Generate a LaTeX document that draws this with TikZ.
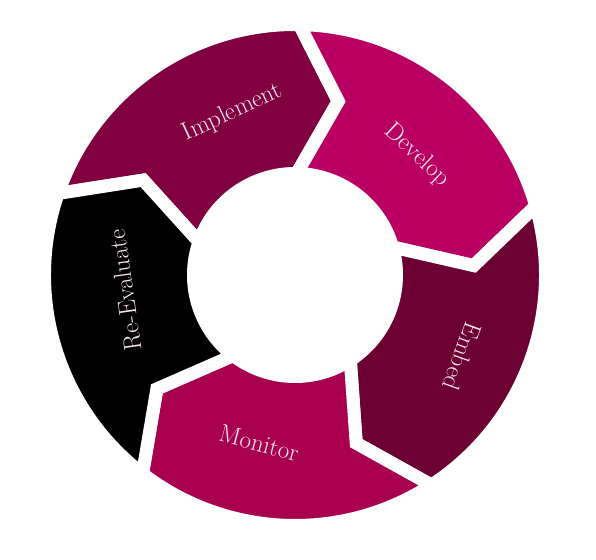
\documentclass[tikz,border=0pt]{standalone}
\usepackage{xcolor,tikz}

\definecolor{implcol}{HTML}{800040}
\definecolor{devcol}{HTML}{B90062}
\definecolor{embcol}{HTML}{6C0032}
\definecolor{moncol}{HTML}{A8004F}
\definecolor{reevcol}{HTML}{000000}
\definecolor{textcol}{HTML}{F4E4EC}

\begin{document}
\begin{tikzpicture}[x=1pt, y=1pt,
	segment/.style={draw=white, line width=13pt, line join=miter},
	phase/.style={text=textcol, inner sep=0pt, font=\fontsize{25}{30}\selectfont}]
			\useasboundingbox (-295, -284) rectangle (301, 275);
			\draw [segment, fill=implcol] (161:250.5pt) arc [start angle=161, end angle=89, radius=250.5pt] -- (76:179pt) -- (89:101.5pt) arc [start angle=89, end angle=161, radius=101.5pt] -- (148:179pt) -- cycle;
			\draw [segment, fill=devcol] (89:250.5pt) arc [start angle=89, end angle=16, radius=250.5pt] -- (3:179pt) -- (16:101.5pt) arc [start angle=16, end angle=89, radius=101.5pt] -- (76:179pt) -- cycle;
			\draw [segment, fill=embcol] (16:250.5pt) arc [start angle=16, end angle=-57, radius=250.5pt] -- (-70:179pt) -- (-57:101.5pt) arc [start angle=-57, end angle=16, radius=101.5pt] -- (3:179pt) -- cycle;
			\draw [segment, fill=moncol] (-57:250.5pt) arc [start angle=-57, end angle=-127.5, radius=250.5pt] -- (-140.5:179pt) -- (-127.5:101.5pt) arc [start angle=-127.5, end angle=-57, radius=101.5pt] -- (-70:179pt) -- cycle;
			\draw [segment, fill=reevcol] (-127.5:250.5pt) arc [start angle=-127.5, end angle=-199, radius=250.5pt] -- (-212:179pt) -- (-199:101.5pt) arc [start angle=-199, end angle=-127.5, radius=101.5pt] -- (-140.5:179pt) -- cycle;
			\node [phase, rotate=25] (impl) at (111:174pt) {Implement};
			\node [phase, rotate=-43] (dev) at (44.5:171pt) {Develop};
			\node [phase, rotate=-110] (emb) at (-26:186pt) {Embed};
			\node [phase, rotate=-15] (mon) at (-102:172pt) {Monitor};
			\node [phase, rotate=98] (reev) at (185:171pt) {Re-Evaluate};
		\end{tikzpicture}
\end{document}
